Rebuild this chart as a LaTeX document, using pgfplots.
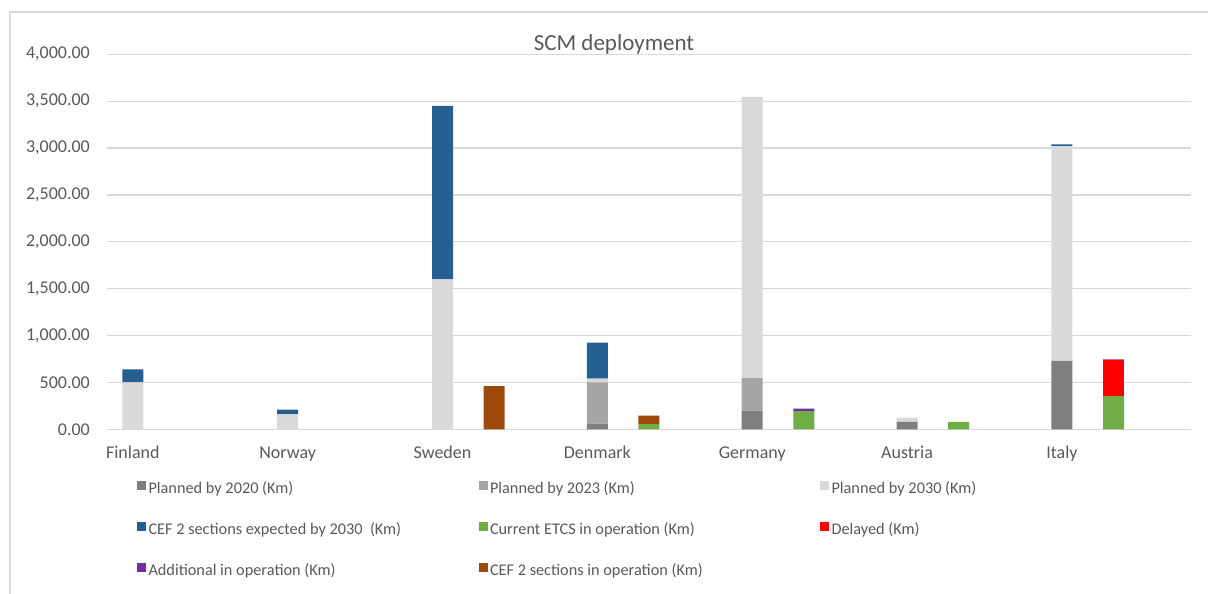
\documentclass[border=0pt]{standalone}
\usepackage{fontspec}
\setmainfont{Carlito}
\usepackage{pgfplots}
\usepackage{pgfplotstable}
\pgfplotsset{compat=1.18}
\definecolor{pA}{HTML}{7F7F7F}
\definecolor{pB}{HTML}{A5A5A5}
\definecolor{pC}{HTML}{D9D9D9}
\definecolor{cefexp}{HTML}{255E91}
\definecolor{etcs}{HTML}{70AD47}
\definecolor{delayed}{HTML}{FF0000}
\definecolor{addop}{HTML}{7030A0}
\definecolor{cefop}{HTML}{9E480E}
\definecolor{txt}{HTML}{595959}
\definecolor{gridc}{HTML}{D9D9D9}

% x: 0,3,...,18 = planned stack of each country; x+1 = operation stack
\pgfplotstableread{
x   pA   pB   pC    cefexp etcs delayed addop cefop
0   0    0    500   140    0    0       0     0
1   0    0    0     0      0    0       0     0
3   0    0    160   50     0    0       0     0
4   0    0    0     0      0    0       0     0
6   0    0    1600  1850   0    0       0     0
7   0    0    0     0      0    0       0     460
9   60   440  40    385    0    0       0     0
10  0    0    0     0      55   0       0     90
12  200  345  3000  0      0    0       0     0
13  0    0    0     0      195  0       25    0
15  80   0    45    0      0    0       0     0
16  0    0    0     0      80   0       0     0
18  730  0    2290  20     0    0       0     0
19  0    0    0     0      355  385     5     0
}\datatable

\newcommand{\legtext}[1]{\makebox[330bp][l]{#1}}

\begin{document}
\begin{tikzpicture}
\useasboundingbox (-107bp,-164.7bp) rectangle (1101bp,429.3bp);
\draw[gridc, line width=1.2bp] (-97bp,-170bp) -- (-97bp,417.3bp) -- (1110bp,417.3bp);
\begin{axis}[
  at={(0,0)}, anchor=south west,
  scale only axis, width=1084bp, height=375bp,
  ybar stacked, bar width=0.407,
  xmin=-0.5, xmax=20.5, ymin=0, ymax=4000,
  xtick={0,3,6,9,12,15,18},
  xticklabels={Finland,Norway,Sweden,Denmark,Germany,Austria,Italy},
  ytick={0,500,...,4000},
  scaled y ticks=false,
  ymajorgrids, grid style={gridc, line width=1.2bp},
  axis line style={draw=none}, major tick length=0pt,
  tick label style={font=\fontsize{18bp}{21bp}\selectfont, text=txt},
  yticklabel style={/pgf/number format/.cd, fixed, fixed zerofill, precision=2, 1000 sep={,}, assume math mode=true,
    /tikz/.cd, anchor=east, inner sep=0pt, xshift=-17bp},
  xticklabel style={anchor=base, inner sep=0pt, yshift=-29bp},
  title={SCM deployment},
  title style={at={(axis description cs:0.4677,1)}, anchor=base, inner sep=0pt, yshift=-2bp,
    font=\fontsize{23bp}{26bp}\selectfont, text=txt},
  legend columns=3,
  legend cell align=left,
  legend style={draw=none, fill=none, inner sep=0pt,
    at={(axis description cs:0.0275,-0.137)}, anchor=north west,
    font=\fontsize{16.3bp}{19bp}\selectfont, text=txt,
    row sep=24bp,
    nodes={inner sep=0pt, text height=11bp, text depth=4bp},
    /tikz/every odd column/.append style={column sep=2.5bp},
    /tikz/every even column/.append style={column sep=0bp}},
  legend image code/.code={\fill[#1] (0bp,0.5bp) rectangle (9bp,9.5bp);},
]
\addplot[fill=pA, draw=none] table[x=x, y=pA] {\datatable};
\addlegendentry{\legtext{Planned by 2020 (Km)}}
\addplot[fill=pB, draw=none] table[x=x, y=pB] {\datatable};
\addlegendentry{\legtext{Planned by 2023 (Km)}}
\addplot[fill=pC, draw=none] table[x=x, y=pC] {\datatable};
\addlegendentry{\legtext{Planned by 2030 (Km)}}
\addplot[fill=cefexp, draw=none] table[x=x, y=cefexp] {\datatable};
\addlegendentry{\legtext{CEF 2 sections expected by 2030\ \ (Km)}}
\addplot[fill=etcs, draw=none] table[x=x, y=etcs] {\datatable};
\addlegendentry{\legtext{Current ETCS in operation (Km)}}
\addplot[fill=delayed, draw=none] table[x=x, y=delayed] {\datatable};
\addlegendentry{\legtext{Delayed (Km)}}
\addplot[fill=addop, draw=none] table[x=x, y=addop] {\datatable};
\addlegendentry{\legtext{Additional in operation (Km)}}
\addplot[fill=cefop, draw=none] table[x=x, y=cefop] {\datatable};
\addlegendentry{\legtext{CEF 2 sections in operation (Km)}}
\end{axis}
\end{tikzpicture}
\end{document}
